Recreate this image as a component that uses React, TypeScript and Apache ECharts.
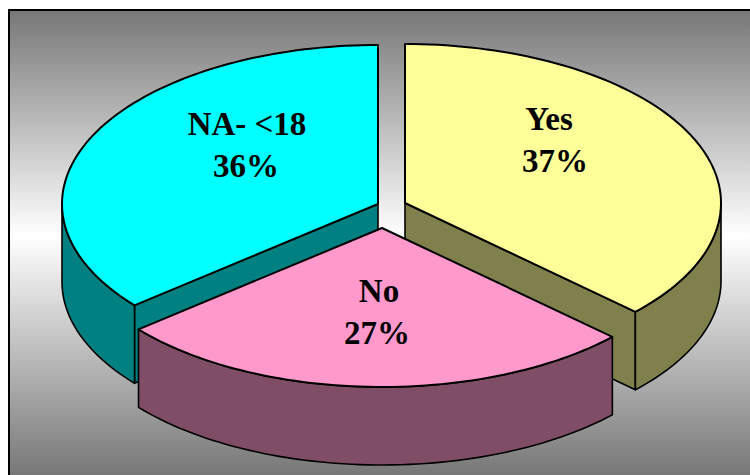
import React, { useEffect, useRef } from "react";
import * as echarts from "echarts";

// Slices in clockwise order from twelve o'clock.
const categories = ["Yes", "No", "NA- <18"];
const shares = [37, 27, 36];
const topColors = ["#FFFF99", "#FF99CC", "#00FFFF"];
const wallColors = ["#80804D", "#804D66", "#008080"];

// Pulled-out apex of each slice, and the centres of its two label lines.
const apexes = [
  [405, 203],
  [382, 228],
  [378, 204],
];
const nameCentres = [
  [549, 119],
  [379, 291],
  [247, 124],
];
const shareCentres = [
  [555, 161],
  [377, 333],
  [246, 166],
];

const RX = 316;
const RY = 159;
const DEPTH = 78;
const OUTLINE = "#000000";

const total = shares.reduce((a, b) => a + b, 0);

function rim(cx: number, cy: number, deg: number): number[] {
  const t = (deg * Math.PI) / 180;
  return [cx + RX * Math.sin(t), cy - RY * Math.cos(t)];
}

function arc(cx: number, cy: number, from: number, to: number): number[][] {
  const steps = Math.max(2, Math.ceil(Math.abs(to - from) / 1.5));
  const pts: number[][] = [];
  for (let i = 0; i <= steps; i++) pts.push(rim(cx, cy, from + ((to - from) * i) / steps));
  return pts;
}

const drop = (pts: number[][]) => pts.map(([x, y]) => [x, y + DEPTH]);

function labelLine(text: string, [x, y]: number[]) {
  return {
    type: "text",
    z2: 100,
    x,
    y,
    style: {
      text,
      fill: "#000000",
      font: 'bold 33px "Liberation Serif"',
      align: "center",
      verticalAlign: "middle",
    },
  };
}

function renderSlice(params: any, api: any) {
  const i = params.dataIndex;
  const value = api.value(1);
  const start = (shares.slice(0, i).reduce((a, b) => a + b, 0) / total) * 360;
  const end = start + (value / total) * 360;
  const [cx, cy] = apexes[i];
  const layer = categories[i] === "No" ? 2 : 1;
  const face = (points: number[][], fill: string, z2: number) => ({
    type: "polygon",
    z2,
    shape: { points },
    style: { fill, stroke: OUTLINE, lineWidth: 1.6, lineJoin: "round" },
  });
  const walls: any[] = [];

  // A cut face shows only where its outward normal points towards the viewer.
  [
    { at: start, normal: start - 90 },
    { at: end, normal: end + 90 },
  ].forEach(({ at, normal }) => {
    if (Math.cos((normal * Math.PI) / 180) < -1e-6) {
      const edge = [[cx, cy], rim(cx, cy, at)];
      walls.push(face([...edge, ...drop(edge).reverse()], wallColors[i], layer * 10));
    }
  });

  // The curved wall is visible on the front half of the rim only.
  const from = Math.max(start, 90);
  const to = Math.min(end, 270);
  if (to > from) {
    const curve = arc(cx, cy, from, to);
    walls.push(face([...curve, ...drop(curve).reverse()], wallColors[i], layer * 10));
  }

  const top = face([[cx, cy], ...arc(cx, cy, start, end)], topColors[i], layer * 10 + 1);
  top.style = { ...top.style, lineWidth: 2 } as any;

  return {
    type: "group",
    children: [
      ...walls,
      top,
      labelLine(categories[i], nameCentres[i]),
      labelLine(`${value}%`, shareCentres[i]),
    ],
  };
}

export default function App() {
  const ref = useRef<HTMLDivElement>(null);

  useEffect(() => {
    const chart = echarts.init(ref.current!, undefined, { renderer: "svg" });
    chart.setOption({
      animation: false,
      backgroundColor: "#FFFFFF",
      graphic: [
        {
          type: "rect",
          z: -1,
          silent: true,
          shape: { x: 9, y: 10, width: 760, height: 480 },
          style: {
            stroke: OUTLINE,
            lineWidth: 2,
            fill: {
              type: "linear",
              x: 0,
              y: 0,
              x2: 0,
              y2: 1,
              colorStops: [
                { offset: 0, color: "#777777" },
                { offset: 0.47, color: "#FFFFFF" },
                { offset: 0.97, color: "#777777" },
                { offset: 1, color: "#777777" },
              ],
            },
          },
        },
      ],
      series: [
        {
          type: "custom",
          coordinateSystem: "none",
          silent: true,
          renderItem: renderSlice,
          data: categories.map((name, i) => ({ name, value: [i, shares[i]] })),
        },
      ],
    });
    return () => chart.dispose();
  }, []);

  return (
    <div
      ref={ref}
      style={{ position: "absolute", left: 0, top: 0, width: 750, height: 475 }}
    />
  );
}
